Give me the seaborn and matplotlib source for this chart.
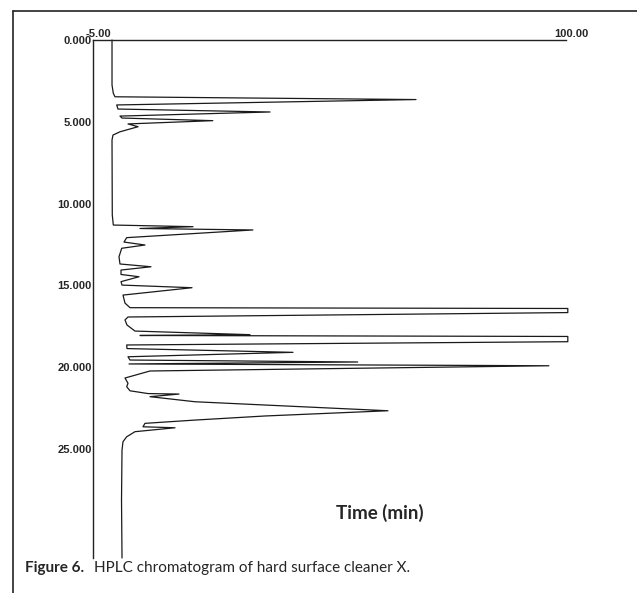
"""
HPLC chromatogram of hard surface cleaner X (Figure 6), redrawn with seaborn.
Time runs downward, detector response runs to the right.
"""

import numpy as np
import pandas as pd
import matplotlib
matplotlib.use("Agg")
import matplotlib.pyplot as plt
import matplotlib.transforms as mtransforms
from matplotlib.lines import Line2D
import seaborn as sns

# trace: retention time (min) and response (plot units)
time_min = [0.00, 2.75, 3.26, 3.47, 3.64, 3.97, 4.22, 4.40, 4.65, 4.77,
            4.93, 5.13, 5.30, 5.61, 5.81, 6.11, 10.70, 11.31, 11.41, 11.52,
            11.61, 12.08, 12.35, 12.53, 12.73, 13.25, 13.69, 13.86, 14.06, 14.33,
            14.47, 14.77, 14.98, 15.14, 15.59, 16.08, 16.36, 16.41, 16.66, 16.93,
            17.11, 17.42, 17.79, 18.01, 18.06, 18.12, 18.44, 18.64, 18.86, 19.09,
            19.36, 19.56, 19.68, 19.80, 19.91, 20.23, 20.66, 20.98, 21.19, 21.44,
            21.61, 21.64, 21.80, 22.11, 22.31, 22.66, 22.98, 23.23, 23.43, 23.64,
            23.70, 23.94, 24.25, 24.55, 25.06, 28.12, 31.66]
response = [-0.78, -0.78, -0.49, -0.12, 66.7, 0.26, 0.55, 34.3, 0.99, 1.44,
            21.6, 2.77, 5.0, 0.99, -0.56, -0.78, -0.72, -0.49, 17.2, 5.43,
            30.5, 2.48, 1.88, 6.54, 1.37, 0.77, 0.99, 7.87, 1.22, 1.22,
            5.21, 1.22, 1.44, 16.98, 1.66, 2.10, 3.21, 100.4, 100.4, 2.77,
            2.10, 2.55, 4.32, 29.85, 5.43, 100.4, 100.4, 2.48, 2.55, 39.4,
            2.77, 3.21, 53.76, 2.99, 96.2, 7.65, 2.10, 2.77, 2.48, 3.21,
            7.21, 14.09, 7.65, 17.64, 33.18, 60.48, 33.18, 17.64, 6.54, 6.1,
            13.2, 4.32, 2.48, 1.66, 1.44, 1.33, 1.44]

y_ticks = [0, 5, 10, 15, 20, 25]
y_labels = ["0.000", "5.000", "10.000", "15.000", "20.000", "25.000"]
x_ticks = [-5, 100]
x_labels = ["-5.00", "100.00"]

df = pd.DataFrame({"time": time_min, "response": response})

sns.set_style("white")
plt.rcParams["font.family"] = ["Liberation Sans", "DejaVu Sans"]

fig = plt.figure(figsize=(6.37, 5.93), dpi=100)
W, H = 637, 593
ax = fig.add_axes([93 / W, 1 - 558 / H, (566 - 93) / W, (558 - 40) / H])

sns.lineplot(data=df, x="response", y="time", orient="y", sort=False,
             estimator=None, color="#1a1a1a", linewidth=0.9, ax=ax,
             clip_on=False)

ax.set_xlim(-5, 100)
ax.set_ylim(31.66, 0)
ax.set_xlabel("")
ax.set_ylabel("")

for side in ["right", "bottom"]:
    ax.spines[side].set_visible(False)
for side in ["left", "top"]:
    ax.spines[side].set_linewidth(1.0)
    ax.spines[side].set_color("#222222")

ax.xaxis.tick_top()
ax.set_xticks(x_ticks)
ax.set_xticklabels(x_labels, fontsize=8, fontweight="bold")
ax.set_yticks(y_ticks)
ax.set_yticklabels(y_labels, fontsize=8, fontweight="bold")
ax.tick_params(axis="both", length=0, pad=1)

# scan shows the end labels sitting a few pixels right of the axis ends
shift = mtransforms.ScaledTranslation(5 / 100, 0, fig.dpi_scale_trans)
for lab in ax.get_xticklabels():
    lab.set_transform(lab.get_transform() + shift)

fig.text(380 / W, 1 - 513 / H, "Time (min)", ha="center", va="center",
         fontsize=13.5, fontweight="bold", family="Lato")

fig.text(25 / W, 1 - 568 / H, "Figure 6.", ha="left", va="center",
         fontsize=11, fontweight="bold", family="Lato")
fig.text(94 / W, 1 - 568 / H, "HPLC chromatogram of hard surface cleaner X.",
         ha="left", va="center", fontsize=11, family="Lato")

# page frame: top and left rules of the figure box
fx, fy = 13 / W, 1 - 11 / H
fig.add_artist(Line2D([fx, 1], [fy, fy], color="#222222", linewidth=1.2,
                      transform=fig.transFigure))
fig.add_artist(Line2D([fx, fx], [0, fy], color="#222222", linewidth=1.2,
                      transform=fig.transFigure))

fig.savefig("out.png", dpi=100)
